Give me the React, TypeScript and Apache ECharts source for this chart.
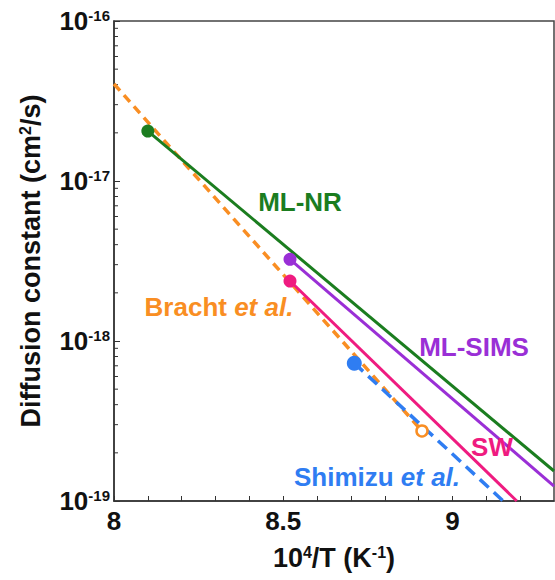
import React, { useEffect, useRef } from "react";
import * as echarts from "echarts";

// ---- data ----
const X_RANGE = [8, 9.3];
const Y_RANGE = [1e-19, 1e-16];
const X_LABELS = [8, 8.5, 9];
const Y_DECADES = [-19, -18, -17];
const MINOR_MULTIPLIERS = [2, 3, 4, 5, 6, 7, 8, 9];

const ML_NR = [[8.10, 2.05e-17], [9.30, 1.54e-19]];
const ML_SIMS = [[8.52, 3.24e-18], [9.30, 1.24e-19]];
const SW = [[8.52, 2.37e-18], [9.19, 1.0e-19]];
const BRACHT = [[8.0, 4.04e-17], [8.91, 2.74e-19]];
const SHIMIZU = [[8.71, 7.26e-19], [9.15, 1.0e-19]];

const ML_NR_POINT = [[8.10, 2.05e-17]];
const ML_SIMS_POINT = [[8.52, 3.24e-18]];
const SW_POINT = [[8.52, 2.37e-18]];
const SHIMIZU_POINT = [[8.71, 7.26e-19]];
const BRACHT_OPEN_POINT = [[8.91, 2.74e-19]];

const C_GREEN = "#1b7d1f";
const C_PURPLE = "#9a2fd6";
const C_PINK = "#ef1b80";
const C_ORANGE = "#f98e23";
const C_BLUE = "#2f7df2";
const FONT = "'Liberation Sans', Arial, sans-serif";

export default function App() {
  const ref = useRef<HTMLDivElement>(null);
  useEffect(() => {
    if (!ref.current) return;
    const chart = echarts.init(ref.current, undefined, { renderer: "svg" });

    const minorTicks: number[][] = [];
    Y_DECADES.forEach((d) =>
      MINOR_MULTIPLIERS.forEach((m) => minorTicks.push([X_RANGE[0], m * Math.pow(10, d)]))
    );

    const lineSeries = (name: string, data: number[][], color: string, dash: any, width: number) => ({
      name,
      type: "line",
      data,
      showSymbol: false,
      symbol: "none",
      lineStyle: { color, width, type: dash },
      z: 3,
    });
    const dotSeries = (data: number[][], color: string, size: number) => ({
      type: "scatter",
      data,
      symbol: "circle",
      symbolSize: size,
      itemStyle: { color, opacity: 1 },
      z: 4,
    });

    const LBL = 26;
    const labelText = (text: string, x: number, y: number, color: string, rich?: any) => ({
      type: "text",
      x,
      y,
      style: {
        text,
        fill: color,
        font: `bold ${LBL}px ${FONT}`,
        align: "center",
        verticalAlign: "middle",
        rich,
      },
      z: 10,
    });

    chart.setOption({
      animation: false,
      backgroundColor: "#fff",
      grid: {
        left: 114,
        right: 1,
        top: 21,
        bottom: 79,
        show: true,
        borderColor: "#444",
        borderWidth: 1.5,
        backgroundColor: "transparent",
      },
      xAxis: {
        type: "value",
        min: X_RANGE[0],
        max: X_RANGE[1],
        interval: 0.1,
        splitLine: { show: false },
        axisLine: { lineStyle: { color: "#333", width: 1.5 } },
        axisTick: { inside: true, length: 5, lineStyle: { color: "#333" } },
        axisLabel: {
          color: "#111",
          fontSize: 26,
          fontWeight: "bold",
          fontFamily: FONT,
          margin: 7,
          showMaxLabel: false,
          formatter: (v: number) => {
            const hit = X_LABELS.find((l) => Math.abs(l - v) < 1e-6);
            return hit !== undefined ? String(hit) : "";
          },
        },
        name: "10{s|4}/T (K{s|-1})",
        nameLocation: "middle",
        nameGap: 43,
        nameTextStyle: {
          color: "#111",
          fontSize: 27,
          fontWeight: "bold",
          fontFamily: FONT,
          rich: {
            s: { fontSize: 16, fontWeight: "bold", fontFamily: FONT, verticalAlign: "top", color: "#111" },
          },
        },
      },
      yAxis: {
        type: "log",
        logBase: 10,
        min: Y_RANGE[0],
        max: Y_RANGE[1],
        splitLine: { show: false },
        axisLine: { show: true, lineStyle: { color: "#333", width: 1.5 } },
        axisTick: { inside: true, length: 6, lineStyle: { color: "#333" } },
        axisLabel: {
          margin: 4,
          formatter: (v: number) => {
            const e = Math.round(Math.log10(v));
            return `{b|10}{s|${e}}`;
          },
          rich: {
            b: { fontSize: 26, fontWeight: "bold", fontFamily: FONT, color: "#111", lineHeight: 26 },
            s: { fontSize: 15, fontWeight: "bold", fontFamily: FONT, color: "#111", verticalAlign: "top" },
          },
        },
        name: "Diffusion constant (cm{s|2}/s)",
        nameLocation: "middle",
        nameRotate: 90,
        nameGap: 70,
        nameTextStyle: {
          color: "#111",
          fontSize: 27,
          fontWeight: "bold",
          fontFamily: FONT,
          rich: {
            s: { fontSize: 16, fontWeight: "bold", fontFamily: FONT, verticalAlign: "top", color: "#111" },
          },
        },
      },
      series: [
        {
          type: "custom",
          data: minorTicks,
          renderItem: (_p: any, api: any) => {
            const pt = api.coord([api.value(0), api.value(1)]);
            return {
              type: "line",
              shape: { x1: pt[0], y1: pt[1], x2: pt[0] + 4, y2: pt[1] },
              style: { stroke: "#333", lineWidth: 1 },
            };
          },
          z: 2,
          silent: true,
        },
        lineSeries("Bracht et al.", BRACHT, C_ORANGE, [9, 6], 3.5),
        lineSeries("Shimizu et al.", SHIMIZU, C_BLUE, [12, 7], 3.5),
        lineSeries("SW", SW, C_PINK, "solid", 3),
        lineSeries("ML-SIMS", ML_SIMS, C_PURPLE, "solid", 3),
        lineSeries("ML-NR", ML_NR, C_GREEN, "solid", 3),
        dotSeries(SHIMIZU_POINT, C_BLUE, 15),
        dotSeries(SW_POINT, C_PINK, 13),
        dotSeries(ML_SIMS_POINT, C_PURPLE, 13),
        dotSeries(ML_NR_POINT, C_GREEN, 13),
        {
          type: "scatter",
          data: BRACHT_OPEN_POINT,
          symbol: "circle",
          symbolSize: 11,
          itemStyle: { color: "#fff", borderColor: C_ORANGE, borderWidth: 2.5, opacity: 1 },
          z: 4,
        },
      ],
      graphic: [
        labelText("ML-NR", 300, 202, C_GREEN),
        labelText("{n|Bracht }{i|et al.}", 219, 307, C_ORANGE, {
          n: { font: `bold ${LBL}px ${FONT}`, fill: C_ORANGE },
          i: { font: `italic bold ${LBL}px ${FONT}`, fill: C_ORANGE },
        }),
        labelText("ML-SIMS", 474, 347, C_PURPLE),
        labelText("SW", 492, 447, C_PINK),
        labelText("{n|Shimizu }{i|et al.}", 377, 477, C_BLUE, {
          n: { font: `bold ${LBL}px ${FONT}`, fill: C_BLUE },
          i: { font: `italic bold ${LBL}px ${FONT}`, fill: C_BLUE },
        }),
      ],
    });
    return () => chart.dispose();
  }, []);
  return (
    <div
      ref={ref}
      style={{ position: "absolute", left: 0, top: 0, width: 555, height: 580 }}
    />
  );
}
